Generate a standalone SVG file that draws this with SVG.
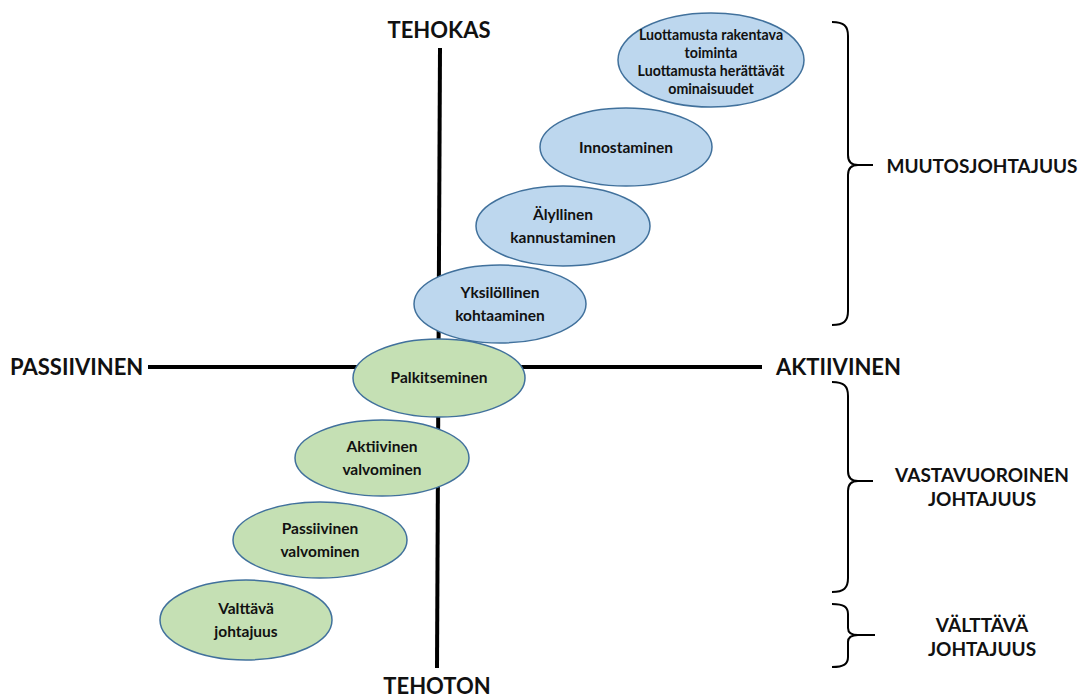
<svg xmlns="http://www.w3.org/2000/svg" width="1086" height="698" viewBox="0 0 1086 698">
<style>
.axis{stroke:#000;stroke-width:4;fill:none}
.brace{stroke:#000;stroke-width:2;fill:none}
.blue{fill:#BDD7EE;stroke:#41719C;stroke-width:1.5}
.green{fill:#C5E0B4;stroke:#41719C;stroke-width:1.5}
text{font-family:Lato,"Open Sans",sans-serif;font-weight:bold;fill:#111}
.n{font-size:15.5px;text-anchor:middle}
.s{font-size:14.2px;text-anchor:middle}
.ax{font-size:22px}
.lb{font-size:19px;text-anchor:middle}
</style>
<rect width="1086" height="698" fill="#fff"/>
<g id="connectors">
<line class="axis" x1="440" y1="48" x2="437" y2="668"/>
<line class="axis" x1="148" y1="367" x2="762" y2="367"/>
</g>
<g id="axis-labels">
<text class="ax" x="439" y="38" text-anchor="middle">TEHOKAS</text>
<text class="ax" x="437" y="694" text-anchor="middle">TEHOTON</text>
<text class="ax" x="10" y="375">PASSIIVINEN</text>
<text class="ax" x="776" y="375">AKTIIVINEN</text>
</g>
<g id="n1"><ellipse class="blue" cx="711" cy="60" rx="93" ry="47"/>
<text class="s" x="711" y="40">Luottamusta rakentava</text>
<text class="s" x="711" y="58">toiminta</text>
<text class="s" x="711" y="76">Luottamusta herättävät</text>
<text class="s" x="711" y="94">ominaisuudet</text></g>
<g id="n2"><ellipse class="blue" cx="626" cy="147" rx="86" ry="39"/>
<text class="n" x="626" y="153">Innostaminen</text></g>
<g id="n3"><ellipse class="blue" cx="563" cy="226" rx="87" ry="40"/>
<text class="n" x="563" y="220">Älyllinen</text>
<text class="n" x="563" y="243">kannustaminen</text></g>
<g id="n4"><ellipse class="blue" cx="500" cy="304" rx="86" ry="39"/>
<text class="n" x="500" y="298">Yksilöllinen</text>
<text class="n" x="500" y="321">kohtaaminen</text></g>
<g id="n5"><ellipse class="green" cx="439" cy="378" rx="86" ry="39"/>
<text class="n" x="439" y="383">Palkitseminen</text></g>
<g id="n6"><ellipse class="green" cx="382" cy="458" rx="87" ry="38"/>
<text class="n" x="382" y="452">Aktiivinen</text>
<text class="n" x="382" y="475">valvominen</text></g>
<g id="n7"><ellipse class="green" cx="320" cy="540" rx="87" ry="38"/>
<text class="n" x="320" y="534">Passiivinen</text>
<text class="n" x="320" y="557">valvominen</text></g>
<g id="n8"><ellipse class="green" cx="246" cy="620" rx="86" ry="40"/>
<text class="n" x="246" y="614">Valttävä</text>
<text class="n" x="246" y="637">johtajuus</text></g>
<g id="braces">
<path class="brace" d="M832,22 C844,22 848,26 848,36 V155 C848,162 851,165 858,165 C851,165 848,168 848,175 V311 C848,321 844,325 832,325 M858,165 H873"/>
<path class="brace" d="M832,382 C844,382 848,386 848,396 V471 C848,478 851,481 858,481 C851,481 848,484 848,491 V578 C848,588 844,592 832,592 M858,481 H873"/>
<path class="brace" d="M832,604 C844,604 848,607 848,614 V628 C848,633 851,635 858,635 C851,635 848,637 848,642 V657 C848,664 844,667 832,667 M858,635 H875"/>
</g>
<g id="group-labels">
<text class="lb" x="982" y="173">MUUTOSJOHTAJUUS</text>
<text class="lb" x="982" y="482">VASTAVUOROINEN</text>
<text class="lb" x="982" y="506">JOHTAJUUS</text>
<text class="lb" x="982" y="632">VÄLTTÄVÄ</text>
<text class="lb" x="982" y="656">JOHTAJUUS</text>
</g>
</svg>
